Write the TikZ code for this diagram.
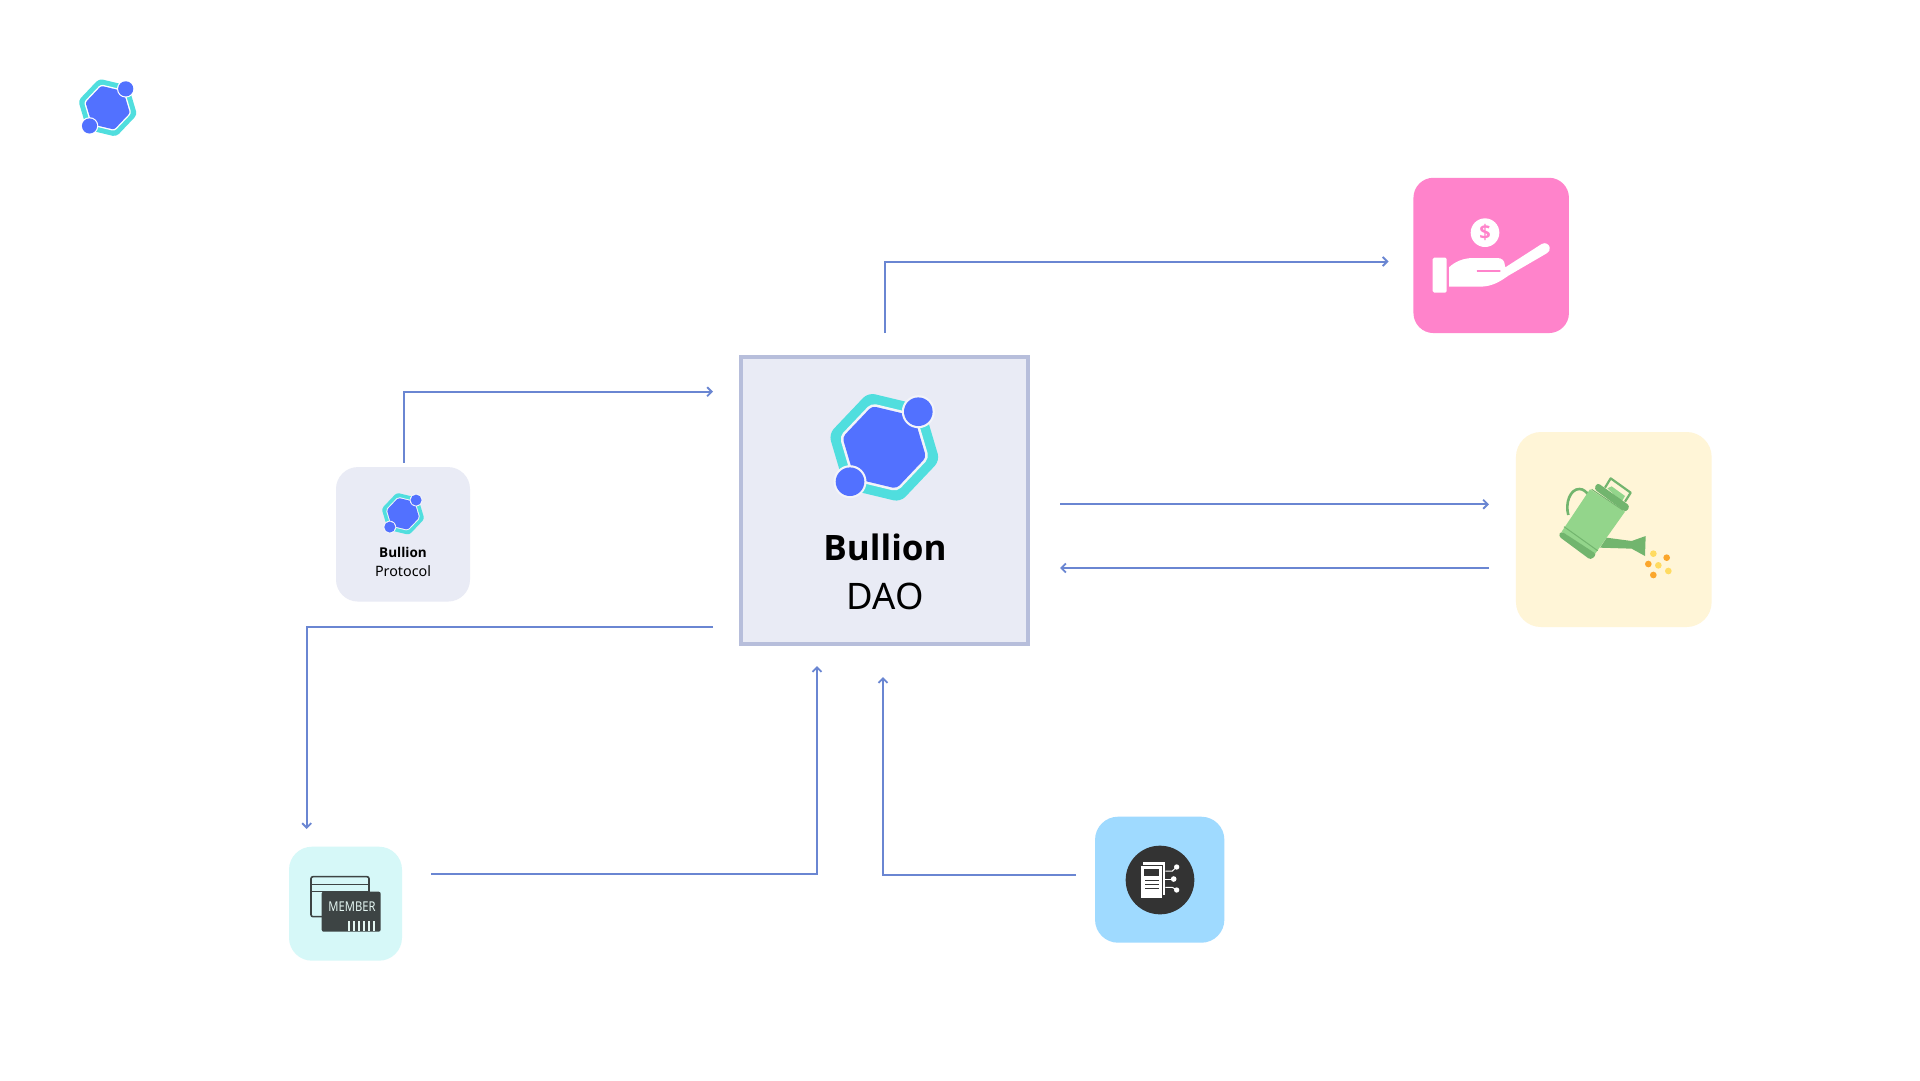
\documentclass[tikz,border=0pt]{standalone}
\usepackage{fontspec}
\setmainfont{Noto Sans}
\newfontfamily\boldfam{Open Sans}[BoldFont={* Bold}]
\usetikzlibrary{arrows.meta}
\definecolor{boxfill}{HTML}{E9EBF5}
\definecolor{boxline}{HTML}{B7BEDB}
\definecolor{teal1}{HTML}{50DEDE}
\definecolor{blue1}{HTML}{5271FF}
\definecolor{conncol}{HTML}{6A86D2}
\definecolor{pinkbox}{HTML}{FF83CB}
\definecolor{yellowbox}{HTML}{FFF5D7}
\definecolor{cyanbox}{HTML}{D6F8F8}
\definecolor{skybox}{HTML}{9FDAFF}
\definecolor{cardark}{HTML}{3D4444}
\definecolor{cardpale}{HTML}{E4F6F2}
\definecolor{darkdisc}{HTML}{333333}
\definecolor{canlight}{HTML}{93D58B}
\definecolor{candark}{HTML}{72B56E}
\definecolor{dotyellow}{HTML}{FFDB61}
\definecolor{dotorange}{HTML}{FBA62B}
\tikzset{
  iconbox/.style={draw=none,inner sep=0pt,outer sep=0pt,rounded corners=#1},
  iconbox/.default=23pt,
  conn/.style={draw=conncol,line width=2pt,-{Straight Barb[length=4.5pt,width=9pt,line width=1.9pt]}},
  labeltext/.style={inner sep=0pt,outer sep=0pt,anchor=base,text=black},
  barline/.style={draw=cardpale,line width=1.6pt},
  branch/.style={draw=white,line width=1pt}
}
\newcommand\bulllogo[4]{%
  \begin{scope}[shift={(#1,#2)},scale=#3]
    \fill[teal1,rounded corners=#3*7pt] (-106.5:57)--(-46.5:57)--(13.5:57)--(73.5:57)--(133.5:57)--(193.5:57)--cycle;
    \fill[#4,rounded corners=#3*5pt] (-106.5:46)--(-46.5:46)--(13.5:46)--(73.5:46)--(133.5:46)--(193.5:46)--cycle;
    \fill[blue1,rounded corners=#3*4pt] (-106.5:43)--(-46.5:43)--(13.5:43)--(73.5:43)--(133.5:43)--(193.5:43)--cycle;
    \fill[#4] (34,-35.6) circle (16.5) (-34.3,34.4) circle (16.5);
    \fill[blue1] (34,-35.6) circle (14.3) (-34.3,34.4) circle (14.3);
  \end{scope}}
\begin{document}
\begin{tikzpicture}[x=1pt,y=-1pt]
\useasboundingbox (0,0) rectangle (1920,1080);
\fill[white] (0,0) rectangle (1920,1080);

% boxes
\node[draw=boxline,fill=boxfill,line width=3.6pt,minimum width=287.5pt,minimum height=287.5pt,inner sep=0pt] (dao) at (884.5,500.5) {};
\node[iconbox=22pt,fill=boxfill,minimum width=134pt,minimum height=134.5pt] (protocol) at (403,534.3) {};
\node[iconbox=20pt,fill=pinkbox,minimum width=155.5pt,minimum height=155.3pt] (pink) at (1491.2,255.4) {};
\node[iconbox=25pt,fill=yellowbox,minimum width=195.7pt,minimum height=195pt] (can) at (1613.8,529.5) {};
\node[iconbox=23pt,fill=cyanbox,minimum width=113pt,minimum height=114pt] (member) at (345.5,903.7) {};
\node[iconbox=23pt,fill=skybox,minimum width=129.3pt,minimum height=126pt] (doc) at (1159.7,879.7) {};

% logos
\bulllogo{107.7}{107.7}{0.53}{white}
\bulllogo{884.3}{447.3}{1}{boxfill!55!white}
\bulllogo{403}{513.8}{0.385}{boxfill!55!white}

% texts
\node[labeltext,font=\fontsize{35}{35}\boldfam\bfseries] (bulliontitle) at (885,560) {Bullion};
\node[labeltext,font=\fontsize{36.5}{36.5}\selectfont] (daotitle) at (885,609) {DAO};
\node[labeltext,font=\fontsize{13.5}{13.5}\boldfam\bfseries] (protoname) at (403,557) {Bullion};
\node[labeltext,font=\fontsize{14.3}{14.3}\selectfont] (protosub) at (403,576.5) {Protocol};

% connector ends
\coordinate (a1s) at (884.5,333);
\coordinate (a1c) at (884.5,261.5);
\coordinate (a1e) at (1388.5,261.5);
\coordinate (a2s) at (1060,504.3);
\coordinate (a2e) at (1489,504.3);
\coordinate (a3s) at (1489,568);
\coordinate (a3e) at (1060,568);
\coordinate (a4s) at (403.5,462.5);
\coordinate (a4c) at (403.5,391.7);
\coordinate (a4e) at (713,391.7);
\coordinate (a5s) at (713,627);
\coordinate (a5c) at (306.7,627);
\coordinate (a5e) at (306.7,829);
\coordinate (a6s) at (431,873.7);
\coordinate (a6c) at (817,873.7);
\coordinate (a6e) at (817,666);
\coordinate (a7s) at (1076,875);
\coordinate (a7c) at (883,875);
\coordinate (a7e) at (883,677);
\draw[conn] (a1s) -- (a1c) -- (a1e);
\draw[conn] (a2s) -- (a2e);
\draw[conn] (a3s) -- (a3e);
\draw[conn] (a4s) -- (a4c) -- (a4e);
\draw[conn] (a5s) -- (a5c) -- (a5e);
\draw[conn] (a6s) -- (a6c) -- (a6e);
\draw[conn] (a7s) -- (a7c) -- (a7e);

% hand icon
\begin{scope}[shift={(1400,160)},scale=1/3]
  \fill[white] (255,218) circle (43);
  \node[inner sep=0pt,text=pinkbox,font=\fontsize{20}{20}\boldfam\bfseries] (dollar) at (255,218) {\$};
  \fill[white,rounded corners=1.5pt] (98,293) rectangle (140,398);
  \fill[white] (147,322) .. controls (165,305) and (190,294) .. (220,294) -- (292,294)
    .. controls (305,294) and (314,302) .. (314,313) .. controls (314,318) and (314,320) .. (316,322)
    -- (425,252) .. controls (435,246) and (447,252) .. (449,262) .. controls (451,270) and (447,276) .. (440,280)
    -- (325,347) .. controls (300,365) and (275,380) .. (240,380) -- (147,380) -- cycle;
  \draw[pinkbox,line width=1.2pt,line cap=round] (232,333) -- (300,333);
\end{scope}

% watering can
\begin{scope}[shift={(1500,420)},scale=1/3]
  \draw[candark,line width=2.6pt] (205,285) .. controls (195,250) and (210,207) .. (238,207) .. controls (250,207) and (258,215) .. (266,225);
  \draw[candark,line width=2.2pt,line join=round] (315,203) -- (332,175) -- (392,218) -- (375,245);
  \fill[canlight] (322,205) -- (335,199) -- (375,228) -- (365,245) -- cycle;
  \fill[candark] (320,353) -- (395,363) -- (437,348) -- (435,408) -- (395,386) -- (300,383) -- cycle;
  \fill[canlight] (270,208) -- (375,275) -- (285,402) -- (185,335) -- cycle;
  \fill[candark,rounded corners=3pt] (292,188) -- (390,258) -- (378,277) -- (282,207) -- cycle;
  \draw[candark,line width=1pt] (275,208) -- (368,270);
  \fill[candark,rounded corners=3pt] (183,333) -- (290,403) -- (272,420) -- (175,348) -- cycle;
  \draw[candark,line width=1pt] (192,320) -- (293,392);
  \fill[dotyellow] (460,401) circle (10) (475,436) circle (10) (505,453) circle (10);
  \fill[dotorange] (500,413) circle (10) (445,432) circle (10) (460,465) circle (10);
\end{scope}

% member card
\begin{scope}[shift={(280,840)},scale=1/3]
  \draw[cardark,line width=1.6pt,rounded corners=2pt] (93,110) rectangle (267,230);
  \draw[cardark,line width=1.6pt] (93,133) -- (267,133) (93,155) -- (267,155);
  \fill[cardark,rounded corners=2pt] (125,155) rectangle (302,275);
  \node[inner sep=0pt,text=cardpale,font=\fontsize{13.5}{13.5}\selectfont] (membertext) at (216,199) {\scalebox{0.83}[1]{MEMBER}};
  \foreach \bx in {207,222,237,252,267,282} {\draw[barline] (\bx,243) -- (\bx,273);}
\end{scope}

% document disc
\begin{scope}[shift={(1085,810)},scale=1/3]
  \fill[darkdisc] (225,210) circle (103);
  \fill[white] (173,157) rectangle (241,255);
  \draw[darkdisc,line width=.6pt,fill=white] (165,165) rectangle (233,264);
  \fill[darkdisc] (177,178) rectangle (222,199);
  \draw[darkdisc,line width=1.2pt] (180,212) -- (222,212) (180,224) -- (222,224) (180,236) -- (222,236);
  \draw[branch] (241,183) -- (262,183) -- (275,171);
  \draw[branch] (241,207) -- (266,207);
  \draw[branch] (241,232) -- (262,232) -- (275,240);
  \fill[white] (275,171) circle (8) (266,207) circle (8.5) (275,240) circle (8);
\end{scope}
\end{tikzpicture}
\end{document}
